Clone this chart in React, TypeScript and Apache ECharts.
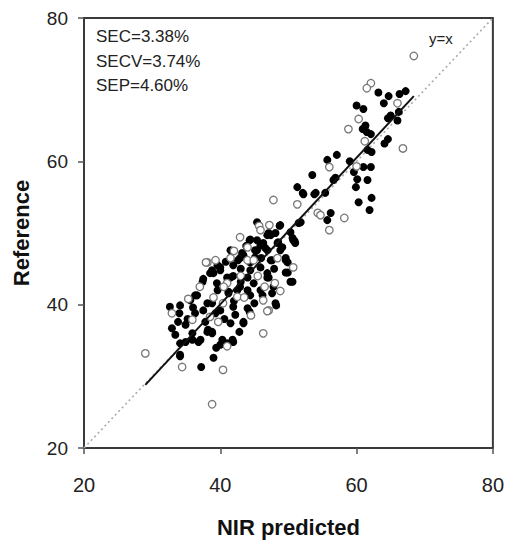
import React, { useEffect, useRef } from "react";
import * as echarts from "echarts";

// Calibration samples (filled) and validation samples (open), [NIR predicted, Reference]
const calibration: [number, number][] = [
  [63.2, 69.6], [64.7, 69.1], [66.3, 69.4], [67.2, 69.8], [60.0, 67.8], [61.0, 67.3], [64.0, 68.1],
  [65.0, 66.4], [64.6, 66.0], [66.0, 65.7], [66.2, 66.9], [60.9, 64.5], [61.3, 65.0], [61.5, 64.1],
  [64.6, 63.1], [64.1, 62.5], [62.1, 63.8], [61.6, 61.6], [62.2, 61.3], [57.1, 60.9], [55.7, 60.2],
  [59.0, 60.0], [59.6, 58.5], [61.0, 59.2], [62.1, 59.2], [53.5, 58.1], [56.9, 57.7], [60.1, 57.5],
  [61.6, 57.4], [51.3, 56.4], [59.9, 56.4], [52.2, 55.4], [53.8, 55.4], [55.4, 55.6], [56.6, 57.4],
  [56.2, 52.8], [55.7, 51.8], [60.3, 54.3], [61.9, 53.2], [62.2, 54.9], [51.8, 51.5], [50.3, 50.1],
  [50.9, 48.9], [49.1, 48.0], [49.6, 46.2], [48.8, 51.1], [45.4, 51.5], [48.7, 51.0], [41.5, 47.6],
  [44.4, 49.1], [47.1, 50.0], [45.9, 48.3], [45.4, 47.6], [46.6, 47.9], [38.8, 44.8], [40.0, 45.2],
  [43.2, 47.2], [42.6, 46.2], [45.1, 46.6], [47.4, 46.2], [49.6, 46.5], [49.9, 45.9], [41.5, 43.8],
  [44.4, 44.8], [46.9, 44.4], [49.6, 44.5], [37.5, 43.6], [47.4, 49.7], [48.5, 48.7], [50.6, 49.3],
  [51.0, 48.6], [37.4, 43.2], [39.0, 44.4], [41.9, 45.5], [43.4, 46.9], [44.4, 45.9], [45.9, 45.2],
  [47.1, 43.8], [50.3, 43.2], [48.1, 40.2], [43.4, 37.6], [39.6, 42.0], [41.2, 41.8], [42.9, 42.5],
  [44.4, 41.3], [45.9, 42.0], [41.9, 39.7], [44.0, 39.5], [40.0, 39.2], [38.1, 40.2], [36.3, 41.3],
  [35.6, 40.6], [34.1, 39.9], [32.6, 39.7], [34.0, 38.8], [36.3, 38.8], [37.5, 39.2], [38.8, 40.2],
  [39.3, 38.8], [32.9, 36.7], [34.9, 37.2], [33.8, 37.6], [35.9, 36.0], [37.1, 35.1], [38.2, 36.5],
  [38.8, 36.0], [40.3, 35.1], [41.0, 34.6], [41.8, 35.1], [41.5, 37.4], [34.1, 34.6], [34.9, 34.8],
  [34.1, 33.0], [37.2, 31.3], [39.0, 32.6], [34.1, 32.8], [43.4, 37.4], [42.8, 36.2], [41.9, 34.8],
  [40.0, 34.4], [48.2, 39.9], [44.3, 39.0], [38.1, 36.2], [38.8, 36.2], [36.8, 34.8], [35.9, 35.1],
  [36.6, 41.3], [52.1, 55.6], [54.0, 55.6], [51.5, 51.4], [50.7, 49.0], [48.1, 50.0], [46.9, 49.7],
  [44.3, 49.0], [45.4, 49.0], [46.3, 48.6], [42.9, 46.5], [45.1, 47.6], [46.9, 47.6], [48.4, 48.6],
  [48.8, 47.6], [47.6, 46.2], [49.9, 44.5], [50.6, 43.2], [39.6, 45.5], [38.5, 44.4], [40.0, 44.8],
  [41.0, 43.8], [41.9, 44.0], [44.0, 43.8], [44.9, 43.0], [46.9, 43.8], [47.8, 42.5], [42.5, 42.0],
  [44.0, 42.0], [46.2, 41.3], [47.6, 41.6], [41.2, 41.6], [43.0, 45.0], [46.0, 46.5], [40.8, 46.0],
  [42.0, 40.5], [45.0, 40.2], [39.5, 43.0], [43.8, 48.2], [47.9, 45.0], [35.2, 38.0], [36.0, 39.6],
  [37.8, 37.6], [40.6, 38.0], [42.2, 38.6], [33.4, 35.8], [39.4, 34.0], [43.0, 43.2],
];

const validation: [number, number][] = [
  [68.4, 74.7], [62.1, 70.9], [61.5, 70.2], [66.0, 68.1], [60.3, 65.9], [58.8, 64.5], [61.2, 62.8],
  [66.8, 61.8], [56.0, 59.2], [60.0, 59.3], [51.3, 54.0], [47.8, 54.6], [54.3, 52.8], [54.7, 52.5],
  [58.2, 52.1], [56.0, 50.4], [47.2, 51.1], [45.7, 51.0], [42.9, 49.4], [45.9, 50.4], [38.1, 45.9],
  [39.3, 46.2], [37.9, 45.9], [44.0, 46.2], [48.4, 46.5], [50.7, 45.2], [44.0, 48.0], [44.9, 46.2],
  [48.8, 41.9], [46.3, 40.6], [47.1, 39.2], [40.4, 40.2], [42.5, 41.1], [38.5, 38.3], [35.3, 40.8],
  [35.9, 37.9], [39.7, 37.6], [29.0, 33.2], [34.4, 31.3], [40.4, 30.9], [38.8, 26.1], [46.3, 36.0],
  [46.9, 39.1], [41.0, 34.2], [32.9, 38.8], [43.0, 44.0], [41.0, 43.0], [45.5, 44.0], [42.0, 47.5],
  [46.5, 42.5], [40.5, 42.5], [44.5, 38.5], [43.5, 41.0], [48.0, 43.0], [41.5, 46.5], [39.0, 41.0],
  [37.0, 42.5],
];

// Fitted regression line end points
const fitLine: [number, number][] = [[29.0, 28.8], [68.4, 69.1]];
// Identity line
const identityLine: [number, number][] = [[20, 20], [80, 80]];

const axisTicks = [20, 40, 60, 80];
const statLines = ["SEC=3.38%", "SECV=3.74%", "SEP=4.60%"];

const FONT = "'Liberation Sans', Arial, sans-serif";

export default function App() {
  const ref = useRef<HTMLDivElement>(null);

  useEffect(() => {
    if (!ref.current) return;
    const chart = echarts.init(ref.current, undefined, { renderer: "svg" });
    const axisCommon = {
      type: "value" as const,
      min: axisTicks[0],
      max: axisTicks[axisTicks.length - 1],
      interval: 20,
      splitLine: { show: false },
      axisLine: { show: true, lineStyle: { color: "#3a3a3a", width: 2 } },
      axisTick: { show: true, inside: false, length: 6, lineStyle: { color: "#555", width: 1.5 } },
      nameTextStyle: { fontFamily: FONT, fontWeight: "bold" as const, fontSize: 22, color: "#111" },
    };
    chart.setOption({
      animation: false,
      backgroundColor: "#fff",
      grid: { left: 84, right: 14, top: 18, bottom: 97, show: true, borderColor: "#3a3a3a", borderWidth: 2 },
      xAxis: {
        ...axisCommon,
        name: "NIR predicted",
        nameLocation: "middle",
        nameGap: 68,
        axisLabel: { fontFamily: FONT, fontSize: 20, color: "#222", margin: 27 },
      },
      yAxis: {
        ...axisCommon,
        name: "Reference",
        nameLocation: "middle",
        nameGap: 52,
        axisLabel: { fontFamily: FONT, fontSize: 19, color: "#222", margin: 16 },
      },
      graphic: [
        ...statLines.map((t, i) => ({
          type: "text",
          left: 96,
          top: 28 + i * 24.5,
          style: { text: t, fontFamily: FONT, fontSize: 17, fill: "#222" },
        })),
        {
          type: "text",
          left: 429,
          top: 31,
          style: { text: "y=x", fontFamily: FONT, fontSize: 15, fill: "#222" },
        },
      ],
      series: [
        {
          type: "line",
          data: identityLine,
          showSymbol: false,
          symbol: "none",
          lineStyle: { color: "#aaa", width: 1.6, type: [2, 3] },
          z: 1,
        },
        {
          type: "scatter",
          data: calibration,
          symbol: "circle",
          symbolSize: 8,
          itemStyle: { color: "#000", opacity: 1 },
          z: 2,
        },
        {
          type: "scatter",
          data: validation,
          symbol: "circle",
          symbolSize: 7.5,
          itemStyle: { color: "#fff", borderColor: "#777", borderWidth: 1.3, opacity: 1 },
          z: 3,
        },
        {
          type: "line",
          data: fitLine,
          showSymbol: false,
          symbol: "none",
          lineStyle: { color: "#111", width: 2 },
          z: 4,
        },
      ],
    });
    return () => chart.dispose();
  }, []);

  return (
    <div
      ref={ref}
      style={{ position: "fixed", left: 0, top: 0, width: 507, height: 545, background: "#fff" }}
    />
  );
}
